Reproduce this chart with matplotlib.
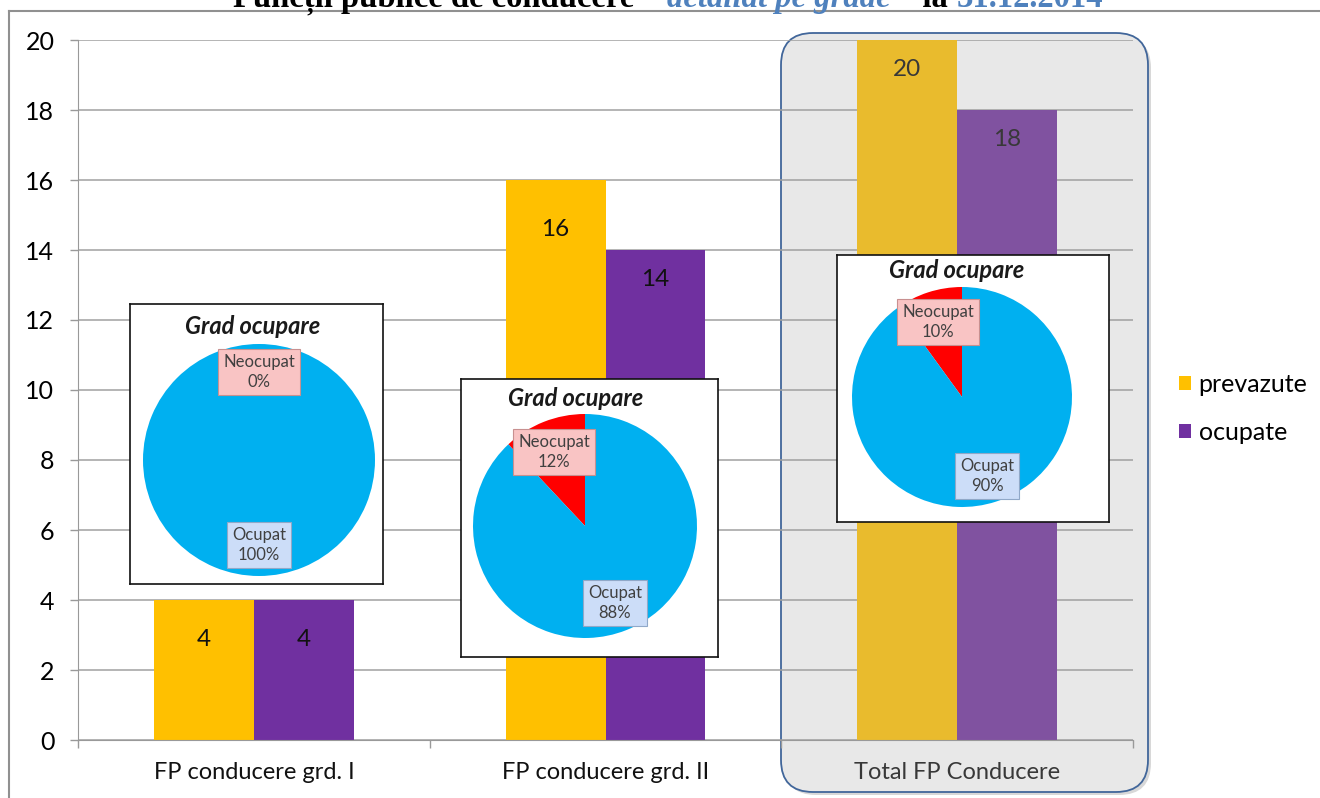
import numpy as np
import matplotlib
matplotlib.use('Agg')
import matplotlib.pyplot as plt
from matplotlib.patches import FancyBboxPatch
from matplotlib.lines import Line2D
from matplotlib.transforms import IdentityTransform

# data
categories = ['FP conducere grd. I', 'FP conducere grd. II', 'Total FP Conducere']
prevazute = [4, 16, 20]
ocupate = [4, 14, 18]
series_names = ['prevazute', 'ocupate']
pie_labels = ['Neocupat', 'Ocupat']
neocupat_pct = [0, 12, 10]
ocupat_pct = [100, 88, 90]
y_ticks = [0, 2, 4, 6, 8, 10, 12, 14, 16, 18, 20]

W, H = 1320, 798
plt.rcParams['font.family'] = ['Lato', 'DejaVu Sans']

fig = plt.figure(figsize=(W / 100, H / 100), dpi=100)
fig.patch.set_facecolor('white')


def px(x, y, w, h):
    # pixel box (top-left origin) -> figure fraction rect
    return [x / W, 1 - (y + h) / H, w / W, h / H]


# highlight box behind the third category
shadow = FancyBboxPatch((784, H - 795), 367, 759, boxstyle='round,pad=0,rounding_size=32',
                        transform=IdentityTransform(), fc='#d8d8d8', ec='none', zorder=-3)
hl = FancyBboxPatch((781, H - 792), 367, 759, boxstyle='round,pad=0,rounding_size=32',
                    transform=IdentityTransform(), fc='#e8e8e8', ec='#41669a', lw=1.3, zorder=-2)
fig.add_artist(shadow)
fig.add_artist(hl)

# outer frame lines
fig.add_artist(Line2D([9 / W, 1], [1 - 11 / H, 1 - 11 / H], color='#909090', lw=1.5))
fig.add_artist(Line2D([9 / W, 9 / W], [1 - 11 / H, 0], color='#909090', lw=1.5))

ax = fig.add_axes(px(78, 40, 1055, 700))
ax.set_facecolor('none')

x = np.arange(len(categories))
bw = 0.284
col_p = ['#FFC000', '#FFC000', '#E9BB2D']
col_o = ['#7030A0', '#7030A0', '#8052A0']
ax.bar(x - bw / 2, prevazute, bw, color=col_p, zorder=2, label=series_names[0])
ax.bar(x + bw / 2, ocupate, bw, color=col_o, zorder=2, label=series_names[1])

# value labels (offset in pixels below bar top)
off_p = [40, 50, 30]
off_o = [40, 30, 29]
txt_col = ['#111111', '#111111', '#383838']
for i in range(len(categories)):
    ax.annotate(str(prevazute[i]), (x[i] - bw / 2, prevazute[i]), xytext=(0, -off_p[i] * 0.72),
                textcoords='offset points', ha='center', va='center', fontsize=17.5, color=txt_col[i], zorder=4)
    ax.annotate(str(ocupate[i]), (x[i] + bw / 2, ocupate[i]), xytext=(0, -off_o[i] * 0.72),
                textcoords='offset points', ha='center', va='center', fontsize=17.5, color=txt_col[i], zorder=4)

ax.set_xlim(-0.5, 2.5)
ax.set_ylim(0, 20)
ax.set_yticks(y_ticks)
ax.tick_params(axis='y', length=6, width=1, color='#999999', pad=11, labelsize=18)
ax.set_xticks([-0.5, 0.5, 1.5, 2.5])
ax.set_xticklabels([])
ax.set_xticks(x, minor=True)
ax.set_xticklabels(categories, minor=True)
ax.tick_params(axis='x', which='major', length=6, width=1, color='#999999', direction='out')
ax.tick_params(axis='x', which='minor', length=0, pad=16, labelsize=17)
for lbl, c in zip(ax.get_xticklabels(minor=True), ['#111111', '#111111', '#383838']):
    lbl.set_color(c)
ax.grid(axis='y', color='#a0a0a0', lw=1.1, zorder=0)
ax.set_axisbelow(True)
for s in ['top', 'right']:
    ax.spines[s].set_visible(False)
ax.spines['left'].set_color('#999999')
ax.spines['bottom'].set_color('#999999')

# legend
fig.legend(loc='center left', bbox_to_anchor=(1156 / W, 1 - 408 / H), frameon=False, fontsize=18,
           handlelength=0.5, handleheight=0.5, handletextpad=0.3, labelspacing=1.0)

# pie insets: box (x, y, w, h), pie centre + radius, label centres, title centre (pixels, top-left origin)
insets = [
    ((130, 304, 253, 280), (259, 460, 116), (259, 372), (259, 545), (253, 326)),
    ((461, 379, 257, 278), (585, 526, 112), (554, 452), (615, 603), (576, 398)),
    ((837, 255, 272, 267), (962, 397, 110), (938, 322), (987, 476), (957, 271)),
]
for i, (box, pie, lab_n, lab_o, tpos) in enumerate(insets):
    bx, by, bwid, bh = box
    iax = fig.add_axes(px(bx, by, bwid, bh), zorder=5)
    iax.set_facecolor('white')
    cx, cy, r = pie
    iax.pie([neocupat_pct[i], ocupat_pct[i]], colors=['#FF0000', '#00B0F0'], startangle=90,
            counterclock=True, center=(cx - bx, bh - (cy - by)), radius=r, frame=True,
            wedgeprops=dict(linewidth=0))
    iax.set_xlim(0, bwid)
    iax.set_ylim(0, bh)
    iax.set_xticks([])
    iax.set_yticks([])
    for s in iax.spines.values():
        s.set_color('#111111')
        s.set_linewidth(1.2)
    iax.text(tpos[0] - bx, bh - (tpos[1] - by), 'Grad ocupare', ha='center', va='center',
             fontsize=17, fontweight='bold', fontstyle='italic', color='#1a1a1a')
    iax.text(lab_n[0] - bx, bh - (lab_n[1] - by), f'{pie_labels[0]}\n{neocupat_pct[i]}%',
             ha='center', va='center', fontsize=12, color='#404040', linespacing=1.3,
             bbox=dict(boxstyle='square,pad=0.3', fc='#F9C4C4', ec='#C89090', lw=0.8))
    iax.text(lab_o[0] - bx, bh - (lab_o[1] - by), f'{pie_labels[1]}\n{ocupat_pct[i]}%',
             ha='center', va='center', fontsize=12, color='#404040', linespacing=1.3,
             bbox=dict(boxstyle='square,pad=0.3', fc='#CCDDF8', ec='#90A8C8', lw=0.8))

# title, cut off at the top edge like in the source
pieces = [('Funcții publice de conducere – ', 'black', 'normal'),
          ('detaliat pe grade', '#4F81BD', 'italic'),
          (' – la ', 'black', 'normal'),
          ('31.12.2014', '#4F81BD', 'normal')]
fig.canvas.draw()
xpos = 233
for s, c, st in pieces:
    t = fig.text(xpos / W, 1 - 7 / H, s, color=c, fontstyle=st, fontweight='bold',
                 fontsize=23.5, family='Liberation Serif', va='baseline', ha='left')
    bb = t.get_window_extent(renderer=fig.canvas.get_renderer())
    xpos = bb.x1

fig.savefig('out.png', dpi=100)
